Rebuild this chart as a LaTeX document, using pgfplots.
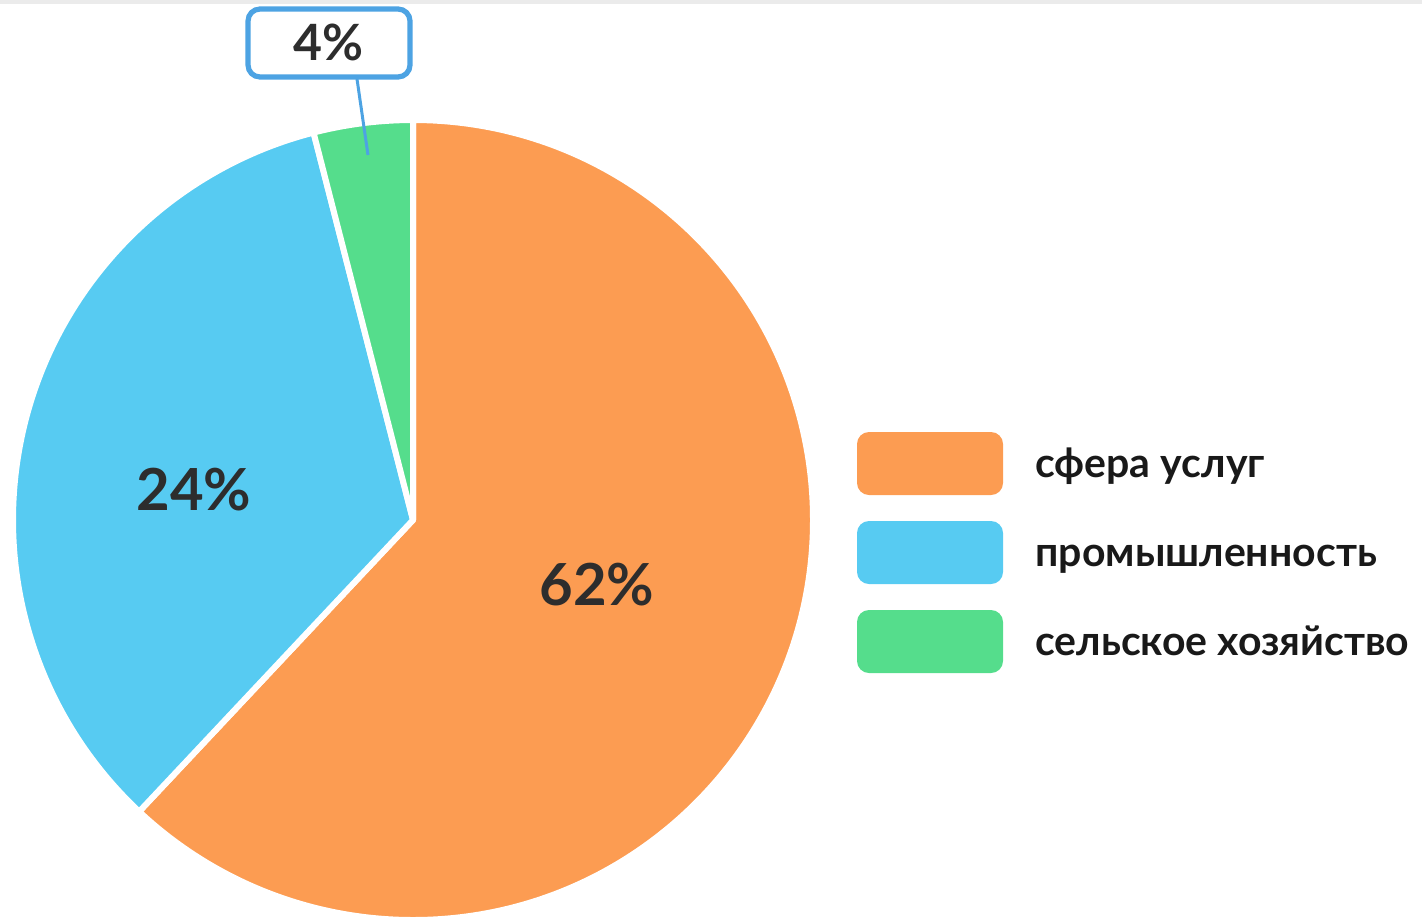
\documentclass[border=0pt]{standalone}
\usepackage{pgfplots}
\pgfplotsset{compat=1.18}
\usepackage{pgfplotstable}
\usepackage{fontspec}
\setmainfont{Lato}
\definecolor{piOrange}{HTML}{FC9C52}
\definecolor{piBlue}{HTML}{57CBF2}
\definecolor{piGreen}{HTML}{55DD8C}
\definecolor{txt}{HTML}{2D2D2D}
\definecolor{callout}{HTML}{4DA3E3}
\pgfplotstableread{
value
62
34
4
}\piedata
\begin{document}
\begin{tikzpicture}
\pgfplotstablegetelem{0}{value}\of\piedata \let\vA\pgfplotsretval
\pgfplotstablegetelem{1}{value}\of\piedata \let\vB\pgfplotsretval
\pgfplotstablegetelem{2}{value}\of\piedata \let\vC\pgfplotsretval
\pgfmathsetmacro\aA{90-3.6*\vA}
\pgfmathsetmacro\aB{\aA-3.6*\vB}
\pgfmathsetmacro\aC{\aB-3.6*\vC}
\begin{axis}[
  x=0.5pt, y=0.5pt,
  xmin=0, xmax=1422, ymin=0, ymax=918,
  hide axis, clip=false, anchor=origin, at={(0,0)},
]
\coordinate (ll) at (axis cs:0,0);
\coordinate (ur) at (axis cs:1422,918);
\fill[black!8] (axis cs:0,918) rectangle (axis cs:1422,914);
% pie slices
\filldraw[fill=piOrange, draw=white, line width=3pt, line join=round] (axis cs:413,398) -- ++(90:200pt) arc[start angle=90, end angle=\aA, radius=200pt] -- cycle;
\filldraw[fill=piBlue, draw=white, line width=3pt, line join=round] (axis cs:413,398) -- ++(\aA:200pt) arc[start angle=\aA, end angle=\aB, radius=200pt] -- cycle;
\filldraw[fill=piGreen, draw=white, line width=3pt, line join=round] (axis cs:413,398) -- ++(\aB:200pt) arc[start angle=\aB, end angle=\aC, radius=200pt] -- cycle;
% labels
\node[anchor=base, text=txt, font=\fontsize{29}{34}\selectfont\bfseries, inner sep=0pt] at (axis cs:597,313) {62\%};
\node[anchor=base, text=txt, font=\fontsize{29}{34}\selectfont\bfseries, inner sep=0pt] at (axis cs:194,408) {24\%};
% callout
\draw[callout, line width=1.5pt] (axis cs:357,839) -- (axis cs:368,763);
\draw[callout, fill=white, line width=2.6pt, rounded corners=6pt] (axis cs:248,909) rectangle (axis cs:410,841);
\node[anchor=base, text=txt, font=\fontsize{25}{28}\selectfont\bfseries, inner sep=0pt] at (axis cs:328,858) {4\%};
% legend
\fill[piOrange, rounded corners=6pt] (axis cs:857,486) rectangle (axis cs:1003,423);
\fill[piBlue, rounded corners=6pt] (axis cs:857,397) rectangle (axis cs:1003,334);
\fill[piGreen, rounded corners=6pt] (axis cs:857,308) rectangle (axis cs:1003,245);
\node[anchor=base west, text=black!90, font=\fontsize{20.5}{24}\selectfont\bfseries, inner sep=0pt] at (axis cs:1035,441) {сфера услуг};
\node[anchor=base west, text=black!90, font=\fontsize{20.5}{24}\selectfont\bfseries, inner sep=0pt] at (axis cs:1035,352) {промышленность};
\node[anchor=base west, text=black!90, font=\fontsize{20.5}{24}\selectfont\bfseries, inner sep=0pt] at (axis cs:1035,263) {сельское хозяйство};
\end{axis}
\pgfresetboundingbox
\path[use as bounding box] (ll) rectangle (ur);
\end{tikzpicture}
\end{document}
